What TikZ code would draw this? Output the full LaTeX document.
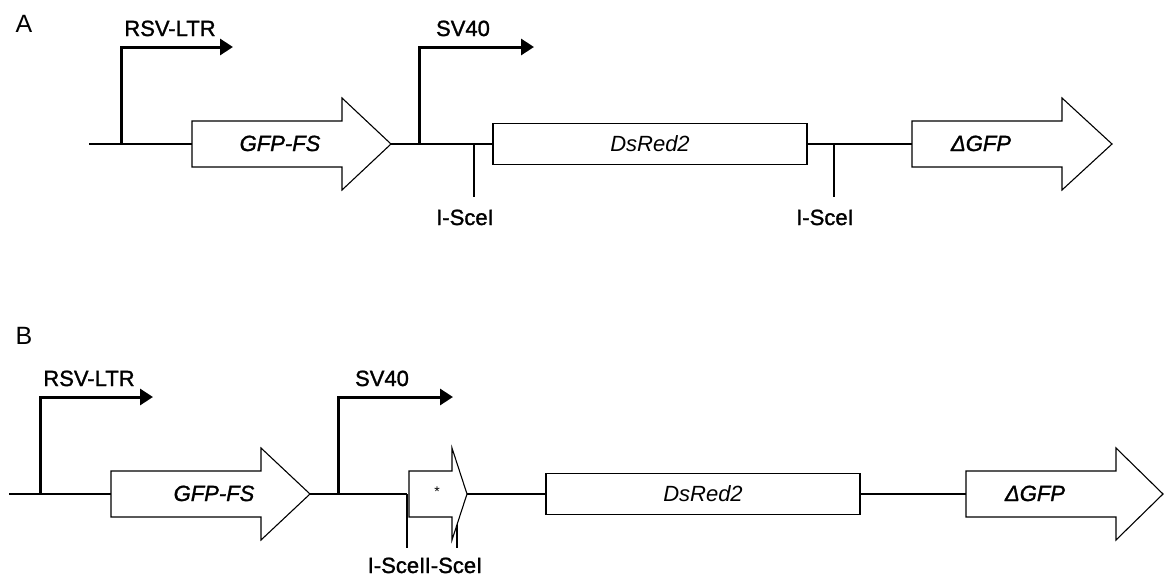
\documentclass[tikz,border=0pt]{standalone}
\usepackage{fontspec}
\setmainfont{Liberation Sans}
\newfontfamily\heavyfont{Liberation Sans}[FakeBold=1.3]
\usetikzlibrary{arrows.meta}
\begin{document}
\begin{tikzpicture}[x=1pt,y=-1pt,
  dna/.style={line width=2pt},
  prom/.style={line width=3pt, -{Triangle[length=13pt,width=16pt]}, line join=miter},
  site/.style={line width=1.6pt},
  gene/.style={draw, line width=1.1pt, fill=white, line join=miter},
  dsbox/.style={draw, line width=1.4pt, fill=white, minimum width=314pt, minimum height=41pt, inner sep=0pt, font=\fontsize{22}{26}\selectfont\itshape},
  lbl/.style={font=\heavyfont\fontsize{22}{26}\selectfont, inner sep=0pt, anchor=base},
  glbl/.style={font=\heavyfont\fontsize{22}{26}\selectfont\itshape, inner sep=0pt, anchor=base},
  panel/.style={font=\fontsize{25}{30}\selectfont, inner sep=0pt, anchor=base}]
\useasboundingbox (0,0) rectangle (1165,581);

% ================= Panel A =================
\node[panel] (labA) at (24,32) {A};
\coordinate (aS) at (89,144);
\coordinate (aP1) at (121,144);
\coordinate (aG1L) at (192,144);
\coordinate (aG1T) at (391,144);
\coordinate (aP2) at (419,144);
\coordinate (aX1) at (474,144);
\coordinate (aDsL) at (493,144);
\coordinate (aDsR) at (807,144);
\coordinate (aX2) at (834,144);
\coordinate (aG2L) at (912,144);
\coordinate (aX1e) at (474,197);
\coordinate (aX2e) at (834,197);
\coordinate (aP1c) at (121,47);
\coordinate (aP1e) at (233,47);
\coordinate (aP2c) at (419,47);
\coordinate (aP2e) at (534,47);

\draw[dna] (aS) -- (aG1L);
\draw[dna] (aG1T) -- (aDsL);
\draw[dna] (aDsR) -- (aG2L);
\draw[site] (aX1) -- (aX1e);
\draw[site] (aX2) -- (aX2e);

\draw[gene] (192,121) -- (342,121) -- (342,98) -- (aG1T) -- (342,190) -- (342,167) -- (192,167) -- cycle;
\node[glbl] (aGFPFS) at (280,151) {GFP-FS};
\node[dsbox] (aDs) at (650,144) {DsRed2};
\draw[gene] (912,121) -- (1062,121) -- (1062,98) -- (1112,144) -- (1062,190) -- (1062,167) -- (912,167) -- cycle;
\node[glbl] (adGFP) at (981,151) {ΔGFP};

\draw[prom] (aP1) -- (aP1c) -- (aP1e);
\draw[prom] (aP2) -- (aP2c) -- (aP2e);
\node[lbl] (aRSV) at (170,36) {RSV-LTR};
\node[lbl] (aSV) at (463,36) {SV40};
\node[lbl] (aI1) at (465,225) {I-SceI};
\node[lbl] (aI2) at (825,225) {I-SceI};

% ================= Panel B =================
\node[panel] (labB) at (24,344) {B};
\coordinate (bS) at (9,494);
\coordinate (bP1) at (40,494);
\coordinate (bG1L) at (111,494);
\coordinate (bG1T) at (310,494);
\coordinate (bP2) at (338,494);
\coordinate (bX1) at (407,494);
\coordinate (bSmT) at (467,494);
\coordinate (bX2) at (457,494);
\coordinate (bDsL) at (546,494);
\coordinate (bDsR) at (860,494);
\coordinate (bG2L) at (966,494);
\coordinate (bX1e) at (407,548);
\coordinate (bX2e) at (457,548);
\coordinate (bP1c) at (40,397);
\coordinate (bP1e) at (153,397);
\coordinate (bP2c) at (338,397);
\coordinate (bP2e) at (453,397);

\draw[dna] (bS) -- (bG1L);
\draw[dna] (bG1T) -- (bX1);
\draw[dna] (bSmT) -- (bDsL);
\draw[dna] (bDsR) -- (bG2L);
\draw[site] (bX1) -- (bX1e);
\draw[site] (bX2) -- (bX2e);

\draw[gene] (111,471) -- (261,471) -- (261,448) -- (bG1T) -- (261,540) -- (261,517) -- (111,517) -- cycle;
\node[glbl] (bGFPFS) at (214,501) {GFP-FS};
\draw[gene] (409,471) -- (452,471) -- (452,448) -- (bSmT) -- (452,540) -- (452,517) -- (409,517) -- cycle;
\node[font=\fontsize{14}{16}\selectfont, inner sep=0pt] (bStar) at (437,492) {*};
\node[dsbox] (bDs) at (703,494) {DsRed2};
\draw[gene] (966,471) -- (1116,471) -- (1116,448) -- (1163,494) -- (1116,540) -- (1116,517) -- (966,517) -- cycle;
\node[glbl] (bdGFP) at (1035,501) {ΔGFP};

\draw[prom] (bP1) -- (bP1c) -- (bP1e);
\draw[prom] (bP2) -- (bP2c) -- (bP2e);
\node[lbl] (bRSV) at (89,386) {RSV-LTR};
\node[lbl] (bSV) at (382,386) {SV40};
\node[lbl] (bI1) at (396.5,573) {I-SceI};
\node[lbl] (bI2) at (453.5,573) {I-SceI};
\end{tikzpicture}
\end{document}
